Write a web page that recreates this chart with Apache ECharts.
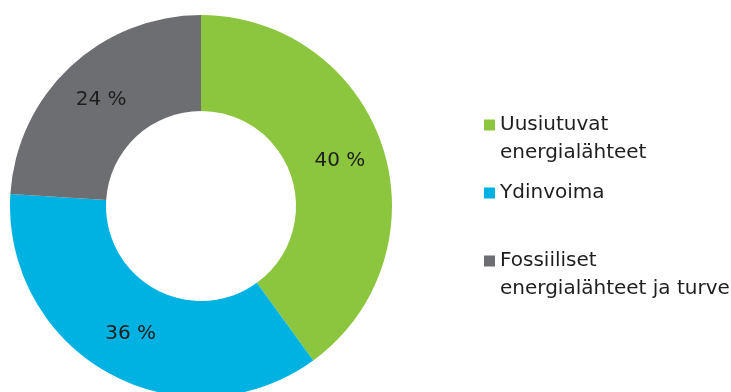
<!DOCTYPE html>
<html>
<head>
<meta charset="utf-8">
<script src="https://cdn.jsdelivr.net/npm/echarts@6/dist/echarts.min.js"></script>
<style>
  html, body { margin: 0; padding: 0; background: #fff; }
  #energyMix { width: 731px; height: 392px; }
</style>
</head>
<body>
<div id="energyMix"></div>
<script>
// data
var sliceNames = ['Uusiutuvat', 'Ydinvoima', 'Fossiiliset'];
var sliceValues = [40, 36, 24];
var legendLabels = ['Uusiutuvat\nenergialähteet', 'Ydinvoima\n', 'Fossiiliset\nenergialähteet ja turve'];
var colors = ['#8cc63f', '#00b2e2', '#6d6e72'];

var chart = echarts.init(document.getElementById('energyMix'));

var pieData = sliceNames.map(function (n, i) {
  return { name: n, value: sliceValues[i], itemStyle: { color: colors[i] } };
});

chart.setOption({
  backgroundColor: '#fff',
  animation: false,
  legend: {
    orient: 'vertical',
    left: 484,
    top: 111,
    padding: 0,
    itemWidth: 11,
    itemHeight: 39,
    itemGap: 12,
    // square sits at the top of a tall box so it lines up with the first text line
    icon: 'path://M0,0h11v11h-11z M0,39h0.01',
    data: sliceNames,
    formatter: function (name) {
      return legendLabels[sliceNames.indexOf(name)];
    },
    textStyle: {
      fontFamily: 'DejaVu Sans',
      fontSize: 20,
      color: '#1e1e1e',
      lineHeight: 28
    }
  },
  series: [{
    type: 'pie',
    center: [201, 206],
    radius: [95, 191],
    startAngle: 90,
    clockwise: true,
    silent: true,
    label: {
      position: 'inside',
      formatter: '{c} %',
      fontFamily: 'DejaVu Sans',
      fontSize: 20,
      color: '#1e1e1e'
    },
    labelLine: { show: false },
    data: pieData
  }]
});
</script>
</body>
</html>
